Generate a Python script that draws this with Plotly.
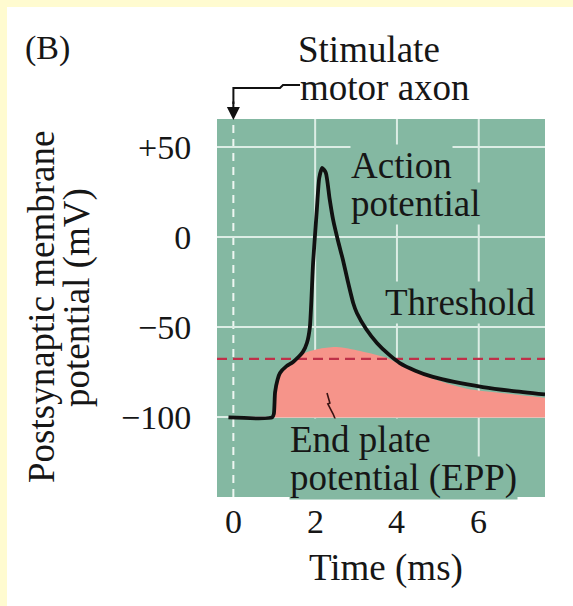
import plotly.graph_objects as go

# ---------------- data ----------------
# Action potential (black trace): time (ms), membrane potential (mV)
ap_t = [-0.12, 0.95, 0.99, 1.02, 1.08, 1.14, 1.30, 1.46, 1.70, 1.80, 1.87, 1.95, 2.04, 2.10, 2.17,
        2.26, 2.35, 2.44, 2.56, 2.68, 2.80, 2.93, 3.02, 3.25, 3.51, 3.80, 4.07, 4.45, 4.88, 5.40,
        6.10, 6.80, 7.62]
ap_v = [-100, -100, -98, -86, -79, -75.3, -71.5, -69.2, -63.6, -58.5, -50, -14, 15, 33, 38.6,
        36, 22, 9.7, -2, -12.5, -24.5, -36.4, -42, -51, -58.6, -65, -69.8, -74, -77.5, -80.3,
        -83.1, -85.2, -87.2]

# End plate potential (pink area) top edge
epp_t = [1.00, 1.03, 1.08, 1.14, 1.30, 1.46, 1.70, 2.07, 2.53, 3.10, 3.76, 4.15, 4.88, 5.71, 6.60, 7.62]
epp_v = [-100, -88, -80, -76.4, -72.5, -69.8, -64.8, -62, -60.9, -63.1, -67, -71.5, -78.5, -84, -86.5, -89]
epp_base = -100

threshold_mv = -67.5

# squiggle connecting label to EPP area
sq_t = [2.29, 2.36, 2.31, 2.44, 2.49]
sq_v = [-86.4, -92.0, -92.5, -98.1, -100.9]

x_ticks = [0, 2, 4, 6]
x_ticktext = ["0", "2", "4", "6"]
y_ticks = [50, 0, -50, -100]
y_ticktext = ["+50", "0", "\u221250", "\u2212100"]

x_range = [-0.40, 7.62]
y_range = [-144.2, 65.8]

# ---------------- layout geometry (pixels) ----------------
W, H = 573, 606
L, R, T, B = 217, 28, 119, 109
PW, PH = W - L - R, H - T - B


def px2x(px):
    return (px - L) / PW


def px2y(py):
    return (H - B - py) / PH


GREEN = "#84b8a2"
PINK = "#f6948a"
YELLOW = "#fffbd0"
GRID = "#dcede5"
TXT = "#161616"
FONT = "Liberation Serif"

fig = go.Figure()

# pink EPP area
fig.add_trace(go.Scatter(x=[epp_t[0], epp_t[-1]], y=[epp_base, epp_base], mode="lines",
                         line=dict(width=0, color=PINK), hoverinfo="skip", showlegend=False))
fig.add_trace(go.Scatter(x=epp_t, y=epp_v, mode="lines", line=dict(width=0, color=PINK, shape="spline", smoothing=0.8),
                         fill="tonexty", fillcolor=PINK, hoverinfo="skip", showlegend=False))

# threshold dashed line
fig.add_trace(go.Scatter(x=x_range, y=[threshold_mv, threshold_mv], mode="lines",
                         line=dict(color="#bf3049", width=2.2, dash="10px,6px"), hoverinfo="skip", showlegend=False))

# action potential
fig.add_trace(go.Scatter(x=ap_t, y=ap_v, mode="lines",
                         line=dict(color="#111111", width=3.8, shape="spline", smoothing=0.6),
                         hoverinfo="skip", showlegend=False))

shapes = []
# yellow border strips
shapes.append(dict(type="rect", xref="paper", yref="paper", x0=px2x(0), x1=px2x(7), y0=px2y(H), y1=px2y(0),
                   fillcolor=YELLOW, line=dict(width=0), layer="below"))
shapes.append(dict(type="rect", xref="paper", yref="paper", x0=px2x(0), x1=px2x(W), y0=px2y(7), y1=px2y(0),
                   fillcolor=YELLOW, line=dict(width=0), layer="below"))
# dashed stimulus time line at t=0
shapes.append(dict(type="line", xref="x", yref="paper", x0=0, x1=0, y0=0, y1=1,
                   line=dict(color="#eef6f2", width=2, dash="8px,6px"), layer="below"))
# elbow line of stimulus pointer
shapes.append(dict(type="path", xref="paper", yref="paper",
                   path=f"M {px2x(300)} {px2y(85)} L {px2x(283)} {px2y(85)} L {px2x(280)} {px2y(88)} "
                        f"L {px2x(233.4)} {px2y(88)} L {px2x(233.4)} {px2y(104)}",
                   line=dict(color="#111111", width=2)))
# squiggle
sq_path = "M " + " L ".join(f"{t} {v}" for t, v in zip(sq_t, sq_v))
shapes.append(dict(type="path", xref="x", yref="y", path=sq_path, line=dict(color="#3a1414", width=1.6)))

# vertical grid lines at 2, 4, 6 (t=0 is the dashed stimulus line)
for t in x_ticks:
    if t != 0:
        shapes.append(dict(type="line", xref="x", yref="paper", x0=t, x1=t, y0=0, y1=1,
                           line=dict(color=GRID, width=2), layer="below"))

anns = []
# arrow head for stimulus pointer
anns.append(dict(x=0, xref="x", y=px2y(120), yref="paper", ax=0, ay=-20, axref="pixel", ayref="pixel",
                 showarrow=True, arrowhead=2, arrowsize=1.3, arrowwidth=2, arrowcolor="#111111", text=""))


def label(text, left, cy, size=37, anchor="left", bg=None):
    d = dict(text=text, x=px2x(left), y=px2y(cy), xref="paper", yref="paper", xanchor=anchor,
             yanchor="middle", showarrow=False, font=dict(family=FONT, size=size, color=TXT), borderpad=0)
    if bg:
        d["bgcolor"] = bg
    anns.append(d)


label("(B)", 24, 48, size=34)
label("Stimulate", 297, 49)
label("motor axon", 299, 87)
label("potential", 350, 203, bg=GREEN)
label("Action", 350, 165, bg=GREEN)
label("Threshold", 384, 302, bg=GREEN)
label("potential (EPP)", 289, 478, bg=GREEN)
label("End plate", 289, 439, bg=GREEN)
label("Time (ms)", 386, 568, anchor="center")
anns.append(dict(text="Postsynaptic membrane", x=px2x(41), y=px2y(307), xref="paper", yref="paper",
                 xanchor="center", yanchor="middle", textangle=-90, showarrow=False,
                 font=dict(family=FONT, size=37, color=TXT)))
anns.append(dict(text="potential (mV)", x=px2x(77), y=px2y(298), xref="paper", yref="paper",
                 xanchor="center", yanchor="middle", textangle=-90, showarrow=False,
                 font=dict(family=FONT, size=37, color=TXT)))
# x tick labels placed at the axis tick positions
for tv, tt in zip(x_ticks, x_ticktext):
    anns.append(dict(text=tt, x=tv, xref="x", y=px2y(521), yref="paper", xanchor="center", yanchor="middle",
                     showarrow=False, font=dict(family=FONT, size=34, color=TXT), borderpad=0))

fig.update_layout(
    width=W, height=H,
    margin=dict(l=L, r=R, t=T, b=B),
    paper_bgcolor="white", plot_bgcolor=GREEN,
    shapes=shapes, annotations=anns, showlegend=False,
    xaxis=dict(range=x_range, tickvals=x_ticks, showticklabels=False,
               showgrid=False, zeroline=False, showline=False, ticks="", fixedrange=True),
    yaxis=dict(range=y_range, tickvals=y_ticks, ticktext=y_ticktext,
               showgrid=True, gridcolor=GRID, gridwidth=2, zeroline=False, showline=False,
               ticks="outside", ticklen=18, tickcolor="rgba(0,0,0,0)",
               tickfont=dict(family=FONT, size=34, color=TXT), fixedrange=True),
)

fig.write_html("out.html")
